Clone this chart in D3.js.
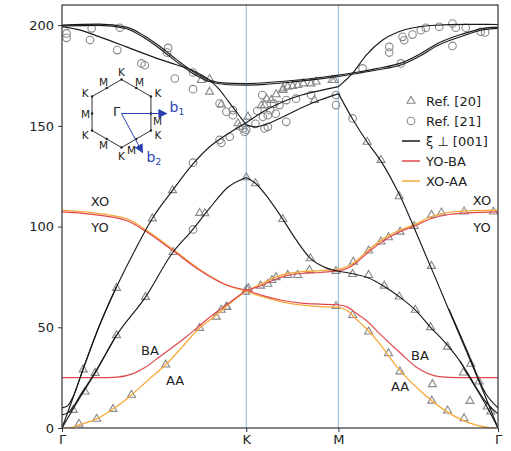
<!DOCTYPE html>
<html>
<head>
<meta charset="utf-8">
<script src="https://cdn.jsdelivr.net/npm/d3@7"></script>
<style>
  body { margin: 0; background: #fff; }
  text { font-family: "DejaVu Sans", sans-serif; fill: #222; }
</style>
</head>
<body>
<script>
// path positions: Γ=0, K=1, M=1.5, Γ=1.5+√3/2
var qK = 1, qM = 1.5, qG = 1.5 + Math.sqrt(3) / 2;
var tickPos = [0, qK, qM, qG];
var tickNames = ["Γ", "K", "M", "Γ"];
var yTicks = [0, 50, 100, 150, 200];

// black curves, ξ ⊥ [001]  ([q, frequency])
var top1 = [[0,200],[0.2,200.5],[0.35,199],[0.45,194.5],[0.53,189.5],[0.62,183],[0.71,177],[0.8,172.8],[0.9,171.2],[1,171],
  [1.1,171.4],[1.25,172.5],[1.4,174],[1.5,175.2],[1.6,176.6],[1.7,178.3],[1.85,181.5],[1.95,186],[2.03,190.5],[2.17,195.5],[2.28,198.3],[2.366,199]];
var top1b = [[0,199.6],[0.2,199.9],[0.35,198.2],[0.45,193.5],[0.53,188.4],[0.62,181.9],[0.71,176],[0.8,172],[0.9,170.4],[1,170.2],
  [1.1,170.6],[1.25,171.8],[1.4,173.3],[1.5,174.5],[1.6,176],[1.7,177.6],[1.85,180.6],[1.95,185],[2.03,189.5],[2.17,194.5],[2.28,197.6],[2.366,198.4]];
var top2 = [[0,199.3],[0.1,197.5],[0.2,194.3],[0.35,189.2],[0.5,184],[0.62,180.3],[0.71,177.5],[0.8,172.7],[0.85,168.5],[0.9,162.5],[0.95,156.5],[1,150.5],
  [1.05,149.5],[1.1,150.5],[1.2,154.5],[1.3,159],[1.4,162.8],[1.5,166],
  [1.576,153.5],[1.656,142],[1.731,132.5],[1.83,116],[1.95,91],[2.1,58.5],[2.2,37],[2.3,15],[2.366,0]];
var la1 = [[0,0],[0.06,15],[0.114,29],[0.2,50],[0.296,70],[0.4,89],[0.49,104],[0.6,118],[0.71,131],[0.8,139.5],[0.9,146],[1,151.5],
  [1.1,157.5],[1.2,162],[1.3,165.3],[1.4,167.5],[1.5,169.5],
  [1.576,176],[1.65,185],[1.738,192.5],[1.82,196.5],[1.9,198.6],[2,199.8],[2.2,200.4],[2.366,200.3]];
var ta1 = [[0,0],[0.1,15.5],[0.18,27.3],[0.296,46],[0.453,65],[0.6,87],[0.7,97.5],[0.8,109],[0.9,119.5],[1,124.4],
  [1.05,121.5],[1.12,114],[1.198,103.7],[1.27,93.5],[1.348,84.2],[1.433,79.5],[1.5,77.8],
  [1.577,76.6],[1.664,74.5],[1.749,70.3],[1.83,65.2],[1.917,58.6],[2,50],[2.083,42],[2.16,33],[2.209,25.5],[2.3,11.5],[2.366,0]];
var la1L = [[0,10],[0.03,11],[0.06,15.5],[0.114,29.2],[0.2,50.3],[0.296,70.3]];
var ta1L = [[0,6.5],[0.04,8],[0.1,16.3],[0.18,27.8],[0.296,46.3]];
var la1R = [[2.1,59],[2.2,38],[2.3,17],[2.366,10]];
var ta1R = [[2.16,33.3],[2.209,26],[2.3,13],[2.366,7]];
var blackBranches = [top1, top1b, top2, la1, ta1, la1L, ta1L, la1R, ta1R];

// YO-BA (red) and XO-AA (orange)
var redOpt = [[0,107.3],[0.15,106.2],[0.35,103],[0.46,97.3],[0.6,88.2],[0.747,78.3],[0.892,71],[1,68.5],
  [1.1,65.5],[1.2,63.3],[1.3,62],[1.4,61.5],[1.5,61.2],
  [1.55,60],[1.597,57],[1.65,53.5],[1.722,47],[1.83,37.7],[1.922,30.3],[2.047,25.5],[2.15,25],[2.366,25]];
var redAc = [[0,25],[0.2,25],[0.3,25.3],[0.386,27],[0.45,30],[0.53,35.4],[0.675,45.3],[0.783,53.6],[0.928,63.5],[1,68.5],
  [1.077,70.5],[1.162,74],[1.225,75.8],[1.3,76.7],[1.4,77.2],[1.5,78],
  [1.55,79.3],[1.597,82],[1.664,87.5],[1.772,94.5],[1.835,97.5],[1.911,100.2],[2.005,104],[2.1,106],[2.2,106.8],[2.366,107.3]];
var orangeOpt = [[0,108.2],[0.15,107],[0.35,103.9],[0.46,98],[0.6,88.8],[0.747,78.7],[0.892,71.1],[1,68],
  [1.1,64.8],[1.2,62.5],[1.3,61],[1.4,60.3],[1.5,60],
  [1.55,58.2],[1.597,54],[1.65,49.5],[1.722,42],[1.83,29],[1.938,19],[2.074,9],[2.209,2.5],[2.317,0.2],[2.366,0]];
var orangeAc = [[0,0],[0.05,0.2],[0.092,1.5],[0.188,4.5],[0.277,9.4],[0.377,16.4],[0.47,24],[0.563,31.4],[0.65,40],[0.747,49.6],[0.837,56],[0.92,62.5],[1,68],
  [1.077,71.3],[1.162,75],[1.225,76.7],[1.3,77.6],[1.4,78.1],[1.5,78.7],
  [1.55,80.2],[1.597,83],[1.664,88.5],[1.772,95.5],[1.835,98.3],[1.911,101],[2.005,105],[2.1,107],[2.2,107.8],[2.366,108.2]];

// measured points
var ref20 = [[0.092,2],[0.188,4.5],[0.277,9.4],[0.377,16.4],[0.563,31.4],[0.747,49.6],[0.837,55.2],[0.864,58.6],[0.895,60],[0.996,67.6],[1.003,69],
  [0.061,8.9],[0.125,18],[0.115,29],[0.18,27.3],[0.296,69.5],[0.296,46],[0.453,65],[0.603,87.3],[0.49,104],[0.6,118],[0.747,106.7],[0.775,106.5],[0.892,60.2],
  [0.756,172.7],[0.801,173.2],[0.801,166.9],[0.865,160.6],[0.955,151.2],[0.964,149.5],
  [1,124.4],[1.05,121.4],[1.198,103.7],[1.348,84.2],[1.487,77.9],[1.012,69.3],[1.077,70.6],[1.117,71.5],[1.139,73.4],[1.162,74.8],[1.225,75.9],[1.279,75.9],[1.343,78.4],[1.487,60.5],
  [1.478,172.7],[1.466,172.7],[1.379,171.9],[1.352,171],[1.28,170.2],[1.252,169.7],[1.225,169.4],[1.198,167.7],[1.162,165.6],[1.135,162.8],[1.099,160.3],[1.081,160],[1.37,162.8],[1.009,154.5],
  [1.11,163.5],[1.2,168.5],[1.31,171],
  [1.581,82.5],[1.664,88],[1.731,92.5],[1.772,94.6],[1.835,97.4],[1.911,100.2],[2.005,105.7],[2.059,106.9],[2.182,107.4],[2.341,107.4],[2.005,80.4],
  [1.577,76.4],[1.664,75.9],[1.749,70.6],[1.83,65.2],[1.917,58.6],[2,50],[2.092,40.3],[2.218,31.8],[2.178,27.5],[2.263,23],
  [1.577,56],[1.664,47.8],[1.772,37],[1.834,28],[2.01,21.7],[2.007,13.5],[2.092,8.6],[2.182,4.8],[2.214,13.4],[2.308,10.6],[2.327,8.1],
  [1.656,142],[1.731,133],[1.83,115]];
var ref21 = [[0.025,195.9],[0.025,193.7],[0.161,198.4],[0.152,192.6],[0.314,198.7],[0.3,187.6],[0.576,188.7],[0.57,186.4],[0.431,181],[0.449,180.1],[0.612,173.5],
  [0.711,168.2],[0.711,176.5],[0.855,161.1],[0.892,157],[0.927,155.3],[0.927,157.8],[0.982,148.7],[0.865,141.6],[0.711,131.7],[0.711,98.6],[0.855,143],[0.91,144.6],[1,148],[0.991,147],
  [1.087,165.3],[1.09,154.5],[1.117,155.3],[1.13,157.8],[1.18,160.3],[1.217,162.8],[1.217,152],[1.099,148.7],[1.117,149.5],[1.352,165.3],[1.487,165.3],[1.487,160.3],
  [1.05,151],[1.06,157.5],[1.15,161],[1.16,156],[1.27,163.5],
  [1.577,153.7],[1.631,178.5],[1.776,189.2],[1.776,186.4],[1.839,181],[1.848,194.2],[1.857,192.5],[1.902,195.3],[1.947,197.5],[1.974,198.7],[2.047,199.2],
  [2.119,200.8],[2.137,198.7],[2.119,189.7],[2.191,198.7],[2.272,196.7],[2.296,196.4]];

var legendNames = ["Ref. [20]", "Ref. [21]", "ξ ⊥ [001]", "YO-BA", "XO-AA"];
var bzK = ["K", "K", "K", "K", "K", "K"];

var w = 511, h = 451;
var margin = {top: 5, right: 13, bottom: 23, left: 62};
var x0 = margin.left, x1 = w - margin.right, y0 = margin.top, y1 = h - margin.bottom;

var xScale = d3.scaleLinear().domain([0, qG]).range([x0, x1]);
var yScale = d3.scaleLinear().domain([0, 210]).range([y1, y0]);

var svg = d3.select("body").append("svg").attr("width", w).attr("height", h);

svg.append("clipPath").attr("id", "clip")
  .append("rect").attr("x", x0).attr("y", y0).attr("width", x1 - x0).attr("height", y1 - y0);

// K, M guide lines
svg.selectAll("line.guide")
  .data([qK, qM])
  .enter().append("line")
  .attr("x1", function(d) { return xScale(d); })
  .attr("x2", function(d) { return xScale(d); })
  .attr("y1", y0).attr("y2", y1)
  .attr("stroke", "#8fbadb").attr("stroke-width", 1);

var plot = svg.append("g").attr("clip-path", "url(#clip)");

var line = d3.line()
  .x(function(d) { return xScale(d[0]); })
  .y(function(d) { return yScale(d[1]); })
  .curve(d3.curveMonotoneX);

// split each branch at K and M so the kinks stay
var segs = [[0, qK], [qK, qM], [qM, qG + 0.01]];
function drawBranch(pts, color, width) {
  segs.forEach(function(s) {
    var p = pts.filter(function(d) { return d[0] >= s[0] - 1e-9 && d[0] <= s[1]; });
    if (p.length < 2) return;
    plot.append("path").attr("d", line(p))
      .attr("fill", "none").attr("stroke", color).attr("stroke-width", width);
  });
}

// points first
var tri = d3.symbol().type(d3.symbolTriangle).size(28);
plot.selectAll("path.r20")
  .data(ref20).enter().append("path")
  .attr("d", tri)
  .attr("transform", function(d) { return "translate(" + xScale(d[0]) + "," + yScale(d[1]) + ")"; })
  .attr("fill", "none").attr("stroke", "#888").attr("stroke-width", 1.1);

plot.selectAll("circle.r21")
  .data(ref21).enter().append("circle")
  .attr("cx", function(d) { return xScale(d[0]); })
  .attr("cy", function(d) { return yScale(d[1]); })
  .attr("r", 3.8)
  .attr("fill", "none").attr("stroke", "#888").attr("stroke-width", 1.1);

drawBranch(orangeOpt, "#f5a93a", 1.3);
drawBranch(orangeAc, "#f5a93a", 1.3);
drawBranch(redOpt, "#e0474c", 1.2);
drawBranch(redAc, "#e0474c", 1.2);
blackBranches.forEach(function(b) { drawBranch(b, "#1a1a1a", 1.15); });

// axes
var yAxis = d3.axisLeft(yScale).tickValues(yTicks).tickSize(4).tickPadding(4);
var gy = svg.append("g").attr("transform", "translate(" + x0 + ",0)").call(yAxis);
var xAxis = d3.axisBottom(xScale).tickValues(tickPos).tickSize(4).tickPadding(3)
  .tickFormat(function(d, i) { return tickNames[i]; });
var gx = svg.append("g").attr("transform", "translate(0," + y1 + ")").call(xAxis);
[gx, gy].forEach(function(g) {
  g.select(".domain").remove();
  g.selectAll("line").attr("stroke", "#333");
  g.selectAll("text").attr("font-size", "13px").attr("font-family", "DejaVu Sans").attr("fill", "#222");
});

svg.append("rect").attr("x", x0).attr("y", y0).attr("width", x1 - x0).attr("height", y1 - y0)
  .attr("fill", "none").attr("stroke", "#333").attr("stroke-width", 1.2);

// branch names
var names = [["XO", 100, 206], ["YO", 100, 232], ["XO", 482, 205], ["YO", 482, 232],
             ["BA", 150, 355], ["AA", 175, 385], ["BA", 420, 360], ["AA", 400, 391]];
svg.selectAll("text.bn").data(names).enter().append("text")
  .attr("x", function(d) { return d[1]; }).attr("y", function(d) { return d[2]; })
  .attr("text-anchor", "middle").attr("font-size", "13px")
  .text(function(d) { return d[0]; });

// legend
var lg = svg.append("g").attr("transform", "translate(402,101)");
legendNames.forEach(function(n, i) {
  var yy = i * 20;
  if (i === 0) {
    lg.append("path").attr("d", tri).attr("transform", "translate(9," + yy + ")")
      .attr("fill", "none").attr("stroke", "#888").attr("stroke-width", 1.1);
  } else if (i === 1) {
    lg.append("circle").attr("cx", 9).attr("cy", yy).attr("r", 3.8)
      .attr("fill", "none").attr("stroke", "#888").attr("stroke-width", 1.1);
  } else {
    lg.append("line").attr("x1", 0).attr("x2", 18).attr("y1", yy).attr("y2", yy)
      .attr("stroke", ["#1a1a1a", "#e0474c", "#f5a93a"][i - 2]).attr("stroke-width", 1.5);
  }
  lg.append("text").attr("x", 24).attr("y", yy + 5).attr("font-size", "13px").text(n);
});

// Brillouin zone inset
var cx = 121.5, cy = 113.5, R = 34;
var verts = d3.range(6).map(function(i) {
  var a = Math.PI / 2 - i * Math.PI / 3;
  return [cx + R * Math.cos(a), cy - R * Math.sin(a), a];
});
var bz = svg.append("g");
bz.append("path").attr("d", d3.line()(verts.map(function(v) { return [v[0], v[1]]; })) + "Z")
  .attr("fill", "none").attr("stroke", "#333").attr("stroke-width", 1);
verts.forEach(function(v, i) {
  var n = verts[(i + 1) % 6];
  var mx = (v[0] + n[0]) / 2, my = (v[1] + n[1]) / 2;
  bz.append("circle").attr("cx", v[0]).attr("cy", v[1]).attr("r", 1.2).attr("fill", "#222");
  bz.append("circle").attr("cx", mx).attr("cy", my).attr("r", 1.2).attr("fill", "#222");
  var a = v[2];
  bz.append("text").attr("x", cx + (R + 8) * Math.cos(a)).attr("y", cy - (R + 8) * Math.sin(a) + 4)
    .attr("text-anchor", "middle").attr("font-size", "10.5px").text(bzK[i]);
  var am = a - Math.PI / 6;
  var off = [[0, 0], [0, 7], [-8, 5], [0, 0], [0, 0], [0, 0]][i];
  bz.append("text").attr("x", cx + 36 * Math.cos(am) + off[0]).attr("y", cy - 36 * Math.sin(am) + 4 + off[1])
    .attr("text-anchor", "middle").attr("font-size", "10.5px").text("M");
});
bz.append("text").attr("x", cx - 5).attr("y", cy + 2).attr("text-anchor", "middle").attr("font-size", "13px").text("Γ");

var blue = "#2a3fb0";
svg.append("defs").append("marker").attr("id", "arr").attr("viewBox", "0 0 10 10")
  .attr("refX", 9).attr("refY", 5).attr("markerWidth", 9).attr("markerHeight", 9)
  .attr("markerUnits", "userSpaceOnUse").attr("orient", "auto")
  .append("path").attr("d", "M0,0L10,5L0,10Z").attr("fill", blue);
var bvec = [[45, 0], [21, 39]];
bvec.forEach(function(b, i) {
  bz.append("line").attr("x1", cx).attr("y1", cy).attr("x2", cx + b[0]).attr("y2", cy + b[1])
    .attr("stroke", blue).attr("stroke-width", 1).attr("marker-end", "url(#arr)");
  var t = bz.append("text").attr("x", cx + b[0] + [3, 4][i]).attr("y", cy + b[1] + [-2, 9][i])
    .attr("font-size", "14px").style("fill", blue);
  t.append("tspan").text("b");
  t.append("tspan").attr("font-size", "9px").attr("dy", 3).text(i + 1);
});
</script>
</body>
</html>
